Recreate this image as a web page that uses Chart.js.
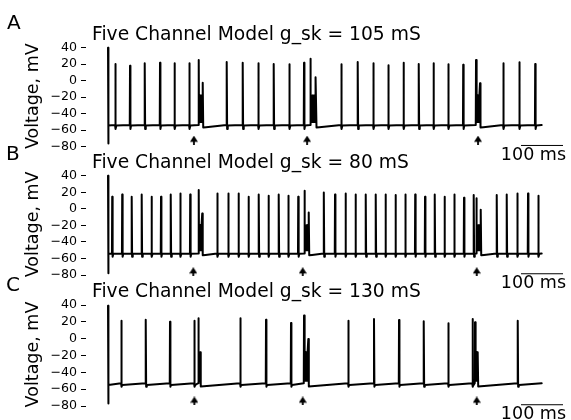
<!DOCTYPE html>
<html><head><meta charset="utf-8">
<script src="https://cdn.jsdelivr.net/npm/chart.js@4.4.0/dist/chart.umd.min.js"></script>
<style>
html,body{margin:0;padding:0;background:#fff;width:571px;height:420px;overflow:hidden;position:relative}
canvas{position:absolute;left:0}
</style></head><body>
<canvas id="cA" width="571" height="170" style="top:0px"></canvas>
<canvas id="cB" width="571" height="170" style="top:128px"></canvas>
<canvas id="cC" width="571" height="163" style="top:257px"></canvas>
<script>
// ---------------- data ----------------
const yTicks = [40, 20, 0, -20, -40, -60, -80];
const panelLetters = ['A', 'B', 'C'];
const panelTitles = ['Five Channel Model g_sk = 105 mS', 'Five Channel Model g_sk = 80 mS', 'Five Channel Model g_sk = 130 mS'];
const yAxisTitle = 'Voltage, mV';
const scaleBarLabel = '100 ms';
const scaleBarStart = 983.3, scaleBarEnd = 1083.3;   // ms (100 ms bar)
const traceEnd = 1032.6;                              // ms

// Panel A (g_sk = 105 mS)
const spikeTimesA = [17.4, 52.4, 87.4, 123.8, 158.3, 193.6, 282.6, 320.7, 357.9, 394.5, 431.7, 466.7, 555.5, 594.5, 631.7, 667.4, 703.6, 739.8, 775, 810.2, 845.7, 941.2, 979.3, 1017.1];
const spikePeaksA = [20.2, 18.2, 21.1, 21.8, 21.1, 21.1, 22.7, 21.8, 21.1, 20.2, 19.8, 21.8, 19.8, 22.7, 21.1, 18.6, 21.8, 20.2, 21.1, 19.8, 19.4, 21.1, 22.3, 20.2];
const burstStartA = [216, 481.7, 876.2];
const burstEndA = [225.5, 495.2, 885.7];
const burstPeak1A = [25.1, 26.7, 25.1];
const burstPeak2A = [-2.4, 4.1, -3.2];
const stimTimesA = [204.5, 474, 881];

// Panel B (g_sk = 80 mS)
const spikeTimesB = [10, 33.8, 56.4, 80.2, 103.6, 126.2, 149.3, 172.1, 195.7, 260.2, 286.4, 310.7, 334.5, 358.8, 382.1, 406.4, 429.3, 452.9, 513.8, 540.5, 565.5, 589.3, 613.6, 637.4, 660.7, 684.5, 707.9, 731.4, 754.8, 777.9, 801.2, 824.5, 847.6, 870.7, 925.5, 949.3, 974.5, 1000, 1024.5];
const spikePeaksB = [14.5, 17.4, 14.5, 17.4, 14.5, 14.5, 17.4, 18.6, 17.4, 18.6, 18.6, 18.6, 14.5, 17.4, 15.8, 17.4, 15.8, 14.5, 19.8, 17.4, 18.6, 17.4, 17.4, 17.4, 17.4, 16.6, 17.4, 17.4, 14.5, 17.4, 14.5, 17.4, 13.3, 16.6, 16.6, 17.4, 18.6, 18.6, 15.8];
const burstStartB = [216, 467.9, 876.9];
const burstEndB = [224.3, 477.9, 887.4];
const burstPeak1B = [22.7, 21.8, 12.6];
const burstPeak2B = [-5.6, -4.4, -1.0];
const stimTimesB = [203.1, 463.6, 877.9];

// Panel C (g_sk = 130 mS)
const spikeTimesC = [31.7, 89.8, 147.6, 205.5, 315, 376.2, 435.7, 572.1, 633.3, 692.9, 751.7, 810.2, 867.9, 975.5];
const spikePeaksC = [21.4, 22.6, 20.2, 21.4, 24.2, 22.6, 18.7, 21.4, 23.4, 22.2, 20.6, 18.2, 23.4, 21.4];
const burstStartC = [215, 466.7, 873.8];
const burstEndC = [220.2, 476.9, 880.2];
const burstPeak1C = [24.2, 27.4, 19.4];
const burstPeak2C = [-17.0, -0.4, -17.0];
const stimTimesC = [205.5, 463.6, 877.9];

// baseline levels (mV): pre-spike, post-spike, trough, post-burst, burst fill top/bottom
const initialA = [40, -76], initialB = [40, -78], initialC = [39, -77];
const baselineA = [-53.8, -54.3, -58.5, -56.3, -18, -50];
const baselineB = [-54.0, -54.3, -58, -55.8, -20, -50];
const baselineC = [-53.0, -55.0, -57.0, -56.5, -16, -50];
const stimLevels = [-72, -76, -74];
const scaleBarLevel = -78.5;

// ---------------- build ----------------
function buildTrace(spT, spV, bS, bE, b1, b2, init, bl) {
  const [pre, post, trough, postBurst, fillTop, fillLow] = bl;
  const ev = [];
  spT.forEach((t, i) => ev.push({ t, s: true, v: spV[i] }));
  bS.forEach((t, i) => ev.push({ t, s: false, e: bE[i], p1: b1[i], p2: b2[i] }));
  ev.sort((a, b) => a.t - b.t);
  const pts = [{ x: 0, y: init[0] }, { x: 0.4, y: init[1] }, { x: 1.6, y: post }];
  for (const e of ev) {
    pts.push({ x: e.t - 0.6, y: pre });
    if (e.s) {
      pts.push({ x: e.t, y: e.v }, { x: e.t + 1.0, y: trough }, { x: e.t + 2.5, y: post });
    } else {
      pts.push({ x: e.t, y: e.p1 }, { x: e.t + 0.7, y: fillLow });
      let k = 0;
      for (let x = e.t + 1.2; x < e.e - 0.8; x += 0.5, k++) pts.push({ x, y: k % 2 ? fillLow : fillTop });
      pts.push({ x: e.e, y: e.p2 }, { x: e.e + 1.2, y: postBurst - 0.4 }, { x: e.e + 8, y: postBurst });
    }
  }
  pts.push({ x: traceEnd, y: pre });
  return pts;
}

function arrowImage() {
  const c = document.createElement('canvas');
  c.width = 8; c.height = 9;
  const g = c.getContext('2d');
  g.fillStyle = '#000';
  g.beginPath(); g.moveTo(4, 0); g.lineTo(8, 6.2); g.lineTo(0, 6.2); g.closePath(); g.fill();
  g.fillRect(3.1, 5.5, 1.8, 3.5);
  return c;
}
const ARROW = arrowImage();
const FONT = '"DejaVu Sans", sans-serif';

const panels = [
  { id: 'cA', padTop: 47.7, padBottom: 23.3, letterXY: [7, 29], trace: buildTrace(spikeTimesA, spikePeaksA, burstStartA, burstEndA, burstPeak1A, burstPeak2A, initialA, baselineA), stim: stimTimesA },
  { id: 'cB', padTop: 47.7, padBottom: 23.0, letterXY: [6, 31.5], trace: buildTrace(spikeTimesB, spikePeaksB, burstStartB, burstEndB, burstPeak1B, burstPeak2B, initialB, baselineB), stim: stimTimesB },
  { id: 'cC', padTop: 48, padBottom: 14, letterXY: [6, 34], trace: buildTrace(spikeTimesC, spikePeaksC, burstStartC, burstEndC, burstPeak1C, burstPeak2C, initialC, baselineC), stim: stimTimesC },
];

panels.forEach((p, i) => {
  const textPlugin = {
    id: 'txt' + i,
    afterDraw(chart) {
      const ctx = chart.ctx, ca = chart.chartArea;
      ctx.save();
      ctx.fillStyle = '#000';
      ctx.textBaseline = 'alphabetic';
      ctx.textAlign = 'left';
      ctx.font = '20px ' + FONT;
      ctx.fillText(panelLetters[i], p.letterXY[0], p.letterXY[1]);
      ctx.font = '18.7px ' + FONT;
      ctx.fillText(panelTitles[i], 92, 40);
      // y title
      ctx.font = '17.5px ' + FONT;
      ctx.save();
      ctx.translate(38, (ca.top + ca.bottom) / 2 - 1);
      ctx.rotate(-Math.PI / 2);
      ctx.textAlign = 'center';
      ctx.fillText(yAxisTitle, 0, 0);
      ctx.restore();
      // scale bar label
      const xs = chart.scales.x, ys = chart.scales.y;
      ctx.font = '17.5px ' + FONT;
      ctx.textAlign = 'right';
      ctx.textBaseline = 'middle';
      ctx.fillText(scaleBarLabel, xs.getPixelForValue(scaleBarEnd) + 3, ys.getPixelForValue(scaleBarLevel) + 10);
      ctx.restore();
    }
  };
  new Chart(document.getElementById(p.id), {
    type: 'line',
    data: {
      datasets: [
        { data: p.trace, borderColor: '#000', borderWidth: 2, pointRadius: 0, tension: 0, borderJoinStyle: 'round', borderCapStyle: 'round', clip: false },
        { data: p.stim.map(t => ({ x: t, y: stimLevels[i] })), showLine: false, pointStyle: ARROW, pointRadius: 3, clip: false },
        { data: [{ x: scaleBarStart, y: scaleBarLevel }, { x: scaleBarEnd, y: scaleBarLevel }], borderColor: '#000', borderWidth: 1, pointRadius: 0, clip: false }
      ]
    },
    options: {
      responsive: false, animation: false, events: [], devicePixelRatio: 1,
      layout: { padding: { left: 0, right: 8, top: p.padTop, bottom: p.padBottom } },
      plugins: { legend: { display: false }, tooltip: { enabled: false }, title: { display: false } },
      scales: {
        x: { type: 'linear', display: false, min: -52.4, max: 1083.3 },
        y: {
          min: -80, max: 40,
          afterFit(s) { s.width = 86; },
          afterBuildTicks(s) { s.ticks = yTicks.map(v => ({ value: v })); },
          border: { display: false },
          grid: { drawOnChartArea: false, drawTicks: true, tickLength: 5, color: '#000', lineWidth: 1 },
          ticks: { autoSkip: false, color: '#000', padding: 4, font: { family: FONT, size: 12.6 }, callback: v => String(v).replace('-', '\u2212') }
        }
      }
    },
    plugins: [textPlugin]
  });
});
</script>
</body></html>
